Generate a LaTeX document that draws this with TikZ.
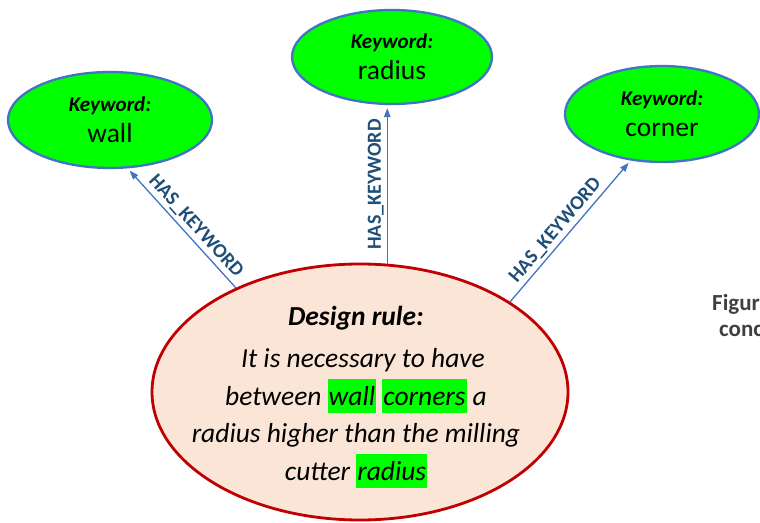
\documentclass[tikz,border=0pt]{standalone}
\usepackage{fontspec}
\setmainfont{Carlito}
\usetikzlibrary{shapes.geometric,arrows.meta}

\definecolor{kwgreen}{HTML}{00FF00}
\definecolor{kwblue}{HTML}{4472C4}
\definecolor{rulefill}{HTML}{FBE5D6}
\definecolor{rulered}{HTML}{C00000}
\definecolor{lbltext}{HTML}{1F4E79}
\definecolor{capgray}{HTML}{404040}

% green highlight behind a keyword inside the rule text
\newcommand\kwmark[1]{{\setlength{\fboxsep}{1pt}\colorbox{kwgreen}{\rule[-7pt]{0pt}{32pt}#1}}}

\tikzset{
  keyword/.style={ellipse, draw=kwblue, line width=2.3pt, fill=kwgreen,
    inner sep=0pt, align=center, font=\fontsize{27.5}{31}\selectfont},
  rulebox/.style={ellipse, draw=rulered, line width=2.8pt, fill=rulefill,
    inner sep=0pt, minimum width=416pt, minimum height=256pt},
  ruletext/.style={inner sep=0pt, align=center,
    font=\fontsize{27.5}{37.5}\selectfont\itshape},
  haskw/.style={draw=kwblue, line width=1.3pt,
    -{Triangle[length=9pt,width=6.5pt]}, shorten >=3pt},
  relname/.style={sloped, above, inner sep=3pt, text=lbltext,
    font=\fontsize{20}{22}\selectfont\bfseries},
  caption/.style={anchor=base west, inner sep=0pt, text=capgray,
    font=\fontsize{23}{26}\selectfont\bfseries},
}

\newcommand\kwhead{{\fontsize{21}{31}\selectfont\bfseries\itshape Keyword:}}

\begin{document}
\begin{tikzpicture}[x=1pt,y=1pt]
  \useasboundingbox (0,0) rectangle (760,522);

  % keyword nodes
  \node[keyword, minimum width=204pt, minimum height=96pt] (wall) at (110,402)
    {\kwhead\\ wall};
  \node[keyword, minimum width=200pt, minimum height=94pt] (radius) at (392,465)
    {\kwhead\\ radius};
  \node[keyword, minimum width=194pt, minimum height=96pt] (corner) at (662,408)
    {\kwhead\\ corner};

  % design rule node and its text
  \node[rulebox] (rule) at (360,130) {};
  \node[ruletext] (ruletxt) at (356,125)
    {{\bfseries Design rule:}\\[5pt]
     \hspace*{14pt}It is necessary to have\\
     between \kwmark{wall} \kwmark{corners} a\\
     radius higher than the milling\\
     cutter \kwmark{radius}};

  % relations
  \draw[haskw] (rule.140) -- (wall.290)
    node[relname, pos=0.45] (r1) {HAS\_KEYWORD};
  \draw[haskw] (rule.78) -- (rule.78 |- radius.south)
    node[relname, pos=0.5] (r2) {HAS\_KEYWORD};
  \draw[haskw] (rule.31) -- (corner.236)
    node[relname, pos=0.45] (r3) {HAS\_KEYWORD};

  % figure caption at the right edge
  \node[caption] (cap1) at (712,211) {Figur};
  \node[caption] (cap2) at (719,185) {conc};
\end{tikzpicture}
\end{document}
